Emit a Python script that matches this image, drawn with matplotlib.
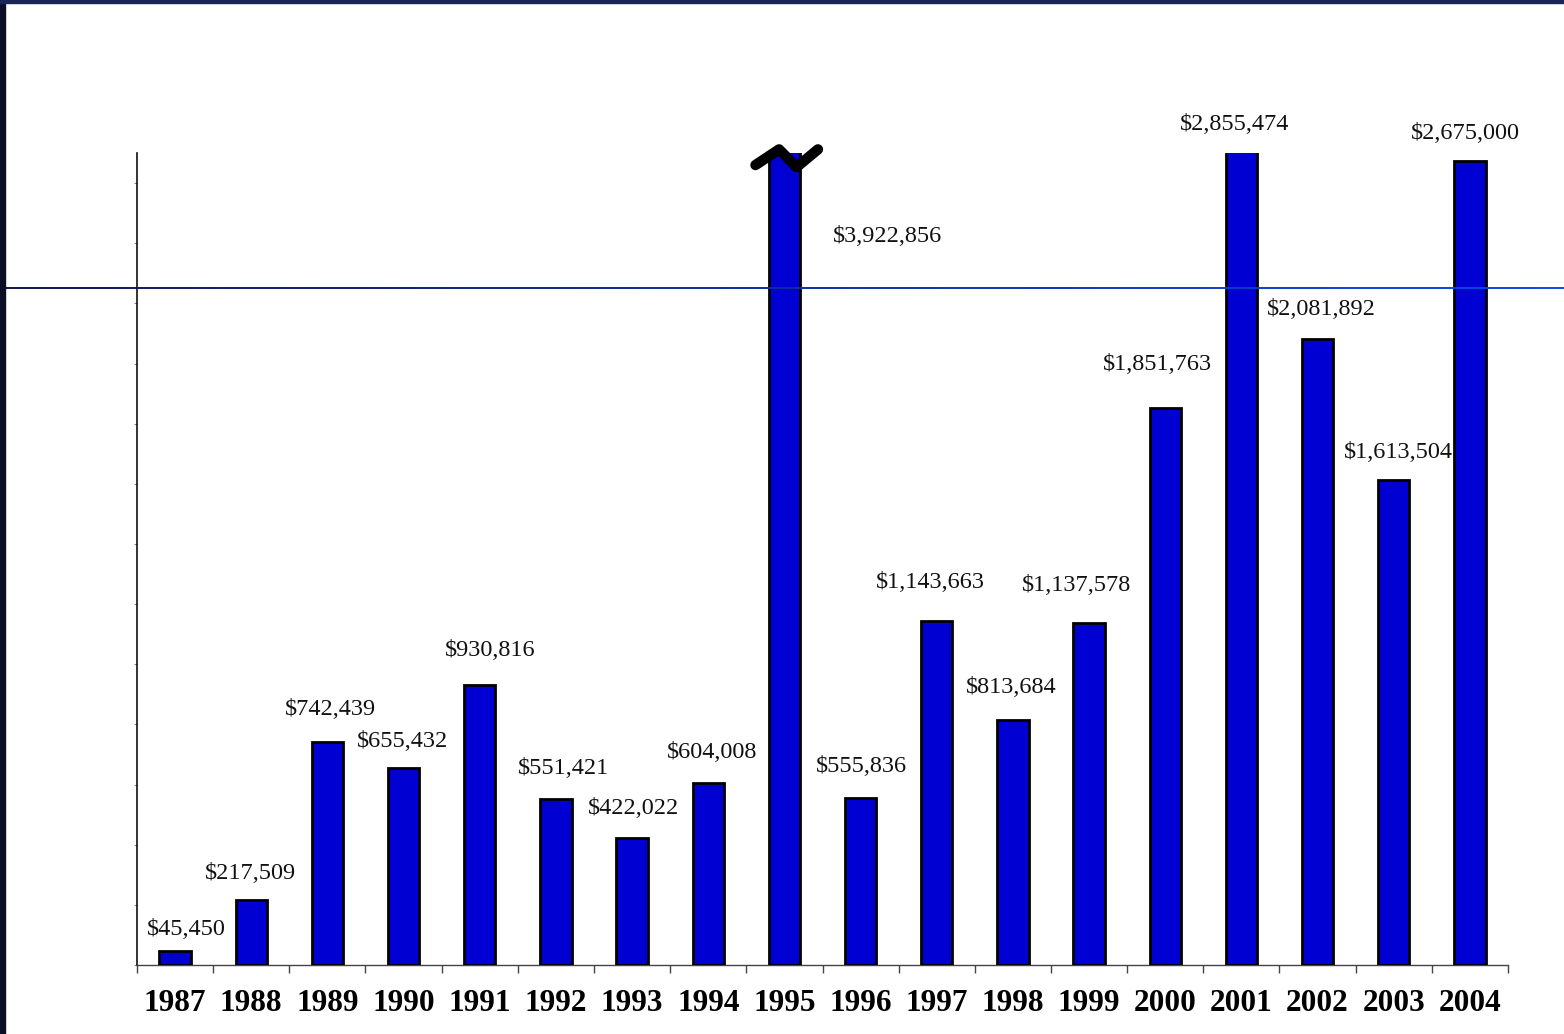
import numpy as np
import matplotlib
matplotlib.use("Agg")
import matplotlib.pyplot as plt
from matplotlib.collections import LineCollection
from matplotlib.patches import Rectangle

plt.rcParams['font.family'] = ['Liberation Serif', 'DejaVu Serif']

years = ['1987', '1988', '1989', '1990', '1991', '1992', '1993', '1994', '1995',
         '1996', '1997', '1998', '1999', '2000', '2001', '2002', '2003', '2004']
amounts = [45450, 217509, 742439, 655432, 930816, 551421, 422022, 604008, 3922856,
           555836, 1143663, 813684, 1137578, 1851763, 2855474, 2081892, 1613504, 2675000]
labels = ['$' + format(v, ',') for v in amounts]

# label offsets in pixels from the top centre of each bar (hand placed like the slide)
label_dx = [11, -1, 3, -1, 11, 8, 1, 4, 103, 1, -6, -2, -13, -8, -7, 4, 5, -4]
label_dy = [22, 26, 32, 26, 35, 31, 30, 31, -84, 31, 39, 33, 37, 44, 28, 29, 27, 27]

ymax = 2700000
broken = years.index('1995')

fig = plt.figure(figsize=(15.64, 10.34), dpi=100)
fig.patch.set_facecolor('white')
ax = fig.add_axes([137 / 1564, 1 - 965 / 1034, (1508 - 137) / 1564, (965 - 153) / 1034])

x = np.arange(len(years))
ax.bar(x, amounts, width=0.41, color='#0000D2', edgecolor='black', linewidth=2.0, zorder=3)

ax.set_xlim(-0.5, len(years) - 0.5)
ax.set_ylim(0, ymax)

for i, v in enumerate(amounts):
    top = min(v, ymax)
    ax.annotate(labels[i], (x[i], top), xytext=(label_dx[i], label_dy[i]),
                textcoords='offset pixels', ha='center', va='center',
                fontsize=17.5, color='#111111', annotation_clip=False)

# break mark on the 1995 bar
bx = broken + np.array([-0.38, -0.07, 0.16, 0.44])
by = ymax + np.array([-40000, 12000, -47000, 12000])
ax.plot(bx, by, color='black', lw=7.5, solid_capstyle='round',
        solid_joinstyle='round', clip_on=False, zorder=5)

ax.set_xticks(x, years)
ax.set_xticks(np.arange(-0.5, len(years)), minor=True)
ax.tick_params(axis='x', which='major', length=0, pad=17)
ax.tick_params(axis='x', which='minor', length=6, width=1, color='#444444', direction='out')
for t in ax.get_xticklabels():
    t.set_fontsize(22.5)
    t.set_fontweight('bold')

ax.set_yticks(np.arange(0, ymax, 200000))
ax.tick_params(axis='y', length=2.5, width=0.8, color='#888888', labelleft=False)

for s in ['top', 'right']:
    ax.spines[s].set_visible(False)
ax.spines['left'].set_color('#111111')
ax.spines['left'].set_linewidth(1.2)
ax.spines['bottom'].set_color('#444444')
ax.spines['bottom'].set_linewidth(1.0)

# slide decoration: horizontal rule with a gradient, and dark frame on the left/top
n = 60
xs = np.linspace(0, 1, n + 1)
yline = 1 - 288 / 1034
segs = [[(xs[k], yline), (xs[k + 1], yline)] for k in range(n)]
c0 = np.array([0.04, 0.08, 0.32])
c1 = np.array([0.05, 0.28, 0.92])
cols = [tuple(c0 + (c1 - c0) * (k / n)) for k in range(n)]
fig.add_artist(LineCollection(segs, colors=cols, linewidths=1.4, transform=fig.transFigure, zorder=1))

fig.add_artist(Rectangle((0, 0), 5 / 1564, 1, transform=fig.transFigure,
                         color='#0b0f26', zorder=6))
fig.add_artist(Rectangle((0, 1 - 3 / 1034), 1, 3 / 1034, transform=fig.transFigure,
                         color='#18245a', zorder=6))

fig.savefig('out.png', dpi=100)
